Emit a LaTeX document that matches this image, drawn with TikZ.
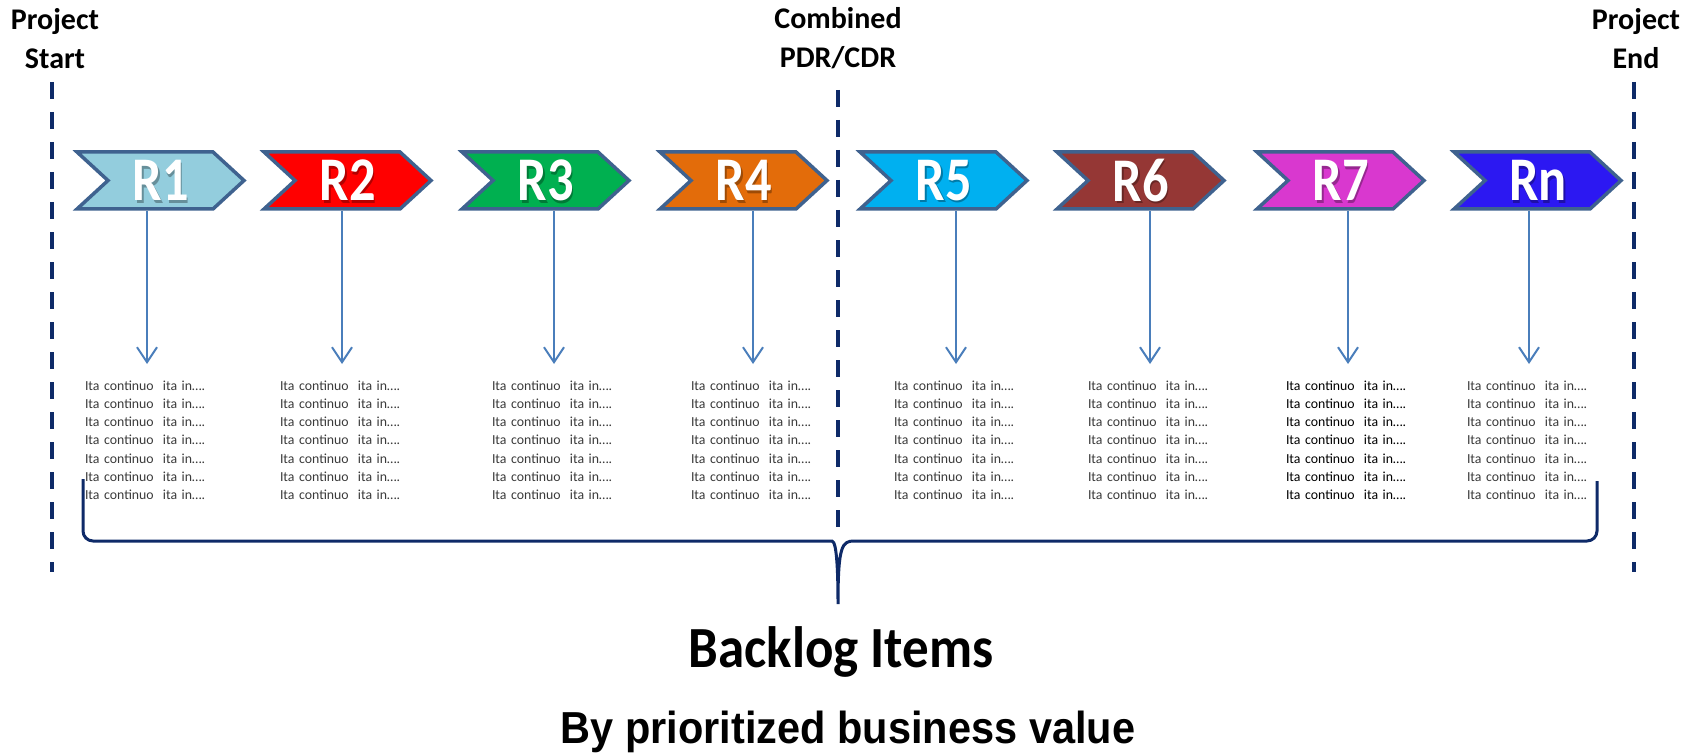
\documentclass[tikz,border=0pt]{standalone}
\usepackage{fontspec}
\setmainfont{Carlito}
\newfontfamily\arialf{Liberation Sans}
\usetikzlibrary{arrows.meta}
\definecolor{chevline}{HTML}{3F628F}
\definecolor{navy}{HTML}{0E2A68}
\definecolor{arrblue}{HTML}{4A7EBB}
\definecolor{txtgray}{HTML}{3A3A3A}
\definecolor{k1}{HTML}{93CDDD}
\definecolor{k2}{HTML}{FF0000}
\definecolor{k3}{HTML}{00B050}
\definecolor{k4}{HTML}{E36C0A}
\definecolor{k5}{HTML}{00B0F0}
\definecolor{k6}{HTML}{953735}
\definecolor{k7}{HTML}{D938CF}
\definecolor{k8}{HTML}{2C18F2}
\begin{document}
\begin{tikzpicture}[x=1pt,y=-1pt,
  chev/.style={draw=chevline, line width=3.5pt, line join=miter},
  lab/.style={inner sep=0pt, minimum width=172pt, minimum height=61pt, text=white, font=\bfseries\fontsize{54}{54}\selectfont},
  labshadow/.style={inner sep=0pt, text=black, opacity=0.3, font=\bfseries\fontsize{54}{54}\selectfont},
  blk/.style={anchor=north, inner sep=0pt, text width=124pt, align=left, font=\fontsize{13.8}{18.2}\selectfont},
  arr/.style={draw=arrblue, line width=2pt, -{Straight Barb[length=15pt,width=20pt,line width=2pt]}},
  mile/.style={draw=navy, line width=3.5pt, dash pattern=on 17pt off 13pt},
  bracestyle/.style={draw=navy, line width=3pt},
  ttl/.style={inner sep=0pt, anchor=base, font=\bfseries\fontsize{30}{30}\selectfont}
]
\useasboundingbox (0,0) rectangle (1702,754);

% milestone lines
\draw[mile] (52,82) -- (52,572);
\draw[mile] (838,90) -- (838,536);
\draw[mile] (1634,82) -- (1634,572);

% milestone titles
\node[ttl] (ps1) at (55,30) {Project};
\node[ttl] (ps2) at (55,69) {Start};
\node[ttl] (cb1) at (838,29) {Combined};
\node[ttl] (cb2) at (838,68) {PDR/CDR};
\node[ttl] (pe1) at (1636,30) {Project};
\node[ttl] (pe2) at (1636,69) {End};

% releases
\foreach \i/\l/\col/\lab/\cx/\tc in {
  1/75/k1/R1/147/txtgray, 2/262/k2/R2/342/txtgray, 3/460/k3/R3/554/txtgray, 4/658/k4/R4/753/txtgray,
  5/858/k5/R5/956/txtgray, 6/1055/k6/R6/1150/txtgray, 7/1255/k7/R7/1348/black, 8/1452/k8/Rn/1529/txtgray}{
  \draw[chev, fill=\col] ({\l+2},152) -- ({\l+138},152) -- ({\l+169},180.5) -- ({\l+138},209)
    -- ({\l+2},209) -- ({\l+33},180.5) -- cycle;
  \node[labshadow] (s\i) at ({\l+87.5},183) {\scalebox{0.97}[1.15]{\lab}};
  \node[lab] (c\i) at ({\l+86},180.5) {\scalebox{0.97}[1.15]{\lab}};
  \node[blk, text=\tc] (t\i) at (\cx,380.5) {Ita continuo~ ita in….\\Ita continuo~ ita in….\\Ita continuo~ ita in….\\Ita continuo~ ita in….\\Ita continuo~ ita in….\\Ita continuo~ ita in….\\Ita continuo~ ita in….};
  \draw[arr, shorten >=16.5pt] (c\i.south -| t\i.north) -- (t\i.north);
}

% brace
\draw[bracestyle] (83,479) [rounded corners=10pt] -- (83,541) -- (822,541) [sharp corners]
  .. controls (834,541) and (838,546) .. (838,604)
  .. controls (838,546) and (842,541) .. (854,541) [rounded corners=10pt] -- (1597,541) -- (1597,481);

% bottom texts
\node[inner sep=0pt, anchor=base, font=\bfseries\fontsize{53}{53}\selectfont] (bi) at (841,667) {\scalebox{1}[1.1]{Backlog Items}};
\node[inner sep=0pt, anchor=base, font=\arialf\bfseries\fontsize{41.5}{41.5}\selectfont] (bv) at (848,743) {\scalebox{1}[1.08]{By prioritized business value}};
\end{tikzpicture}
\end{document}
